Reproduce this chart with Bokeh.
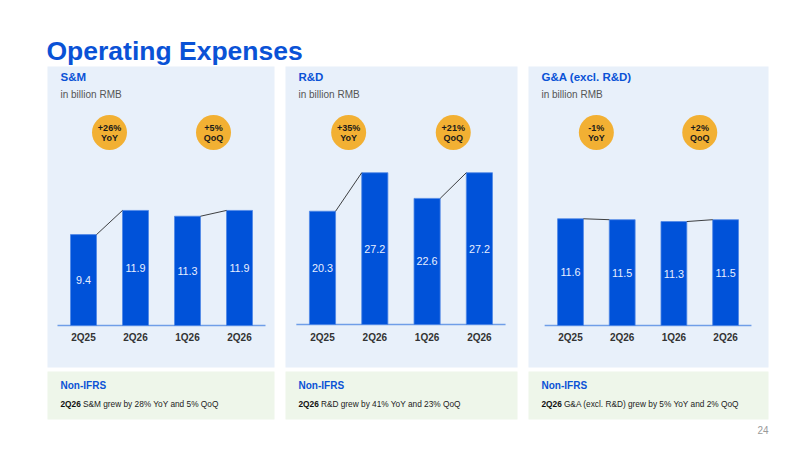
from bokeh.plotting import figure
from bokeh.models import Range1d
from bokeh.core.properties import value
from bokeh.embed import file_html
from bokeh.resources import INLINE

# ---------------- data ----------------
categories = ["2Q25", "2Q26", "1Q26", "2Q26"]
sm_values = [9.4, 11.9, 11.3, 11.9]
rd_values = [20.3, 27.2, 22.6, 27.2]
ga_values = [11.6, 11.5, 11.3, 11.5]
panel_titles = ["S&M", "R&D", "G&A (excl. R&D)"]
unit_label = "in billion RMB"
yoy_labels = ["+26%", "+35%", "-1%"]
qoq_labels = ["+5%", "+21%", "+2%"]
badge_kinds = ["YoY", "QoQ"]
note_title = "Non-IFRS"
note_period = "2Q26"
note_texts = [
    "S&M grew by 28% YoY and 5% QoQ",
    "R&D grew by 41% YoY and 23% QoQ",
    "G&A (excl. R&D) grew by 5% YoY and 2% QoQ",
]
page_title = "Operating Expenses"
page_number = "24"

series = [sm_values, rd_values, ga_values]

# ---------------- layout / style ----------------
W, H = 784, 434
OFF = 0
FONT = value("Liberation Sans")
BLUE = "#0a52d6"
BAR = "#0052d9"
PANEL_BG = "#e8f0fa"
NOTE_BG = "#eef6ea"
BADGE = "#f2b033"

panels = [
    dict(left=47, right=274, cx0=83.0, step=52.0, base=325.0, scale=9.67),
    dict(left=285, right=517, cx0=322.0, step=52.3, base=324.0, scale=5.58),
    dict(left=528, right=768, cx0=570.0, step=51.7, base=325.0, scale=9.2),
]

p = figure(width=W, height=H, x_range=Range1d(OFF, OFF + W), y_range=Range1d(OFF + H, OFF),
           output_backend="svg", toolbar_location=None, min_border=0)
p.axis.visible = False
p.grid.visible = False
p.outline_line_color = None
p.background_fill_color = "white"
p.border_fill_color = "white"

# title
p.text(x=[46], y=[50], text=[page_title], text_font=FONT, text_font_size="26.5px",
       text_font_style="bold", text_color=BLUE, text_baseline="alphabetic")
p.text(x=[768], y=[429], text=[page_number], text_font=FONT, text_font_size="10px",
       text_color="#9a9a9a", text_align="right", text_baseline="middle")

idx = list(range(len(categories)))

for i, (pn, vals) in enumerate(zip(panels, series)):
    xr, yr = f"x{i}", f"y{i}"
    p.extra_x_ranges[xr] = Range1d((OFF - pn["cx0"]) / pn["step"], (OFF + W - pn["cx0"]) / pn["step"])
    p.extra_y_ranges[yr] = Range1d((pn["base"] - (OFF + H)) / pn["scale"], (pn["base"] - OFF) / pn["scale"])

    # panel backgrounds
    p.quad(left=[pn["left"]], right=[pn["right"]], top=[66], bottom=[367],
           fill_color=PANEL_BG, line_color=None)
    p.quad(left=[pn["left"]], right=[pn["right"]], top=[371], bottom=[419],
           fill_color=NOTE_BG, line_color=None)

    tx = pn["left"] + 13
    p.text(x=[tx], y=[76], text=[panel_titles[i]], text_font=FONT, text_font_size="11.5px",
           text_font_style="bold", text_color=BLUE, text_baseline="middle")
    p.text(x=[tx], y=[94], text=[unit_label], text_font=FONT, text_font_size="10px",
           text_color="#555555", text_baseline="middle")

    # notes
    p.text(x=[tx], y=[385], text=[note_title], text_font=FONT, text_font_size="10px",
           text_font_style="bold", text_color=BLUE, text_baseline="middle")
    p.text(x=[tx], y=[403], text=[note_period], text_font=FONT, text_font_size="8.3px",
           text_font_style="bold", text_color="#111111", text_baseline="middle")
    p.text(x=[tx + 22.4], y=[403], text=[note_texts[i]], text_font=FONT, text_font_size="8.3px",
           text_color="#222222", text_baseline="middle")

    # baseline axis line
    p.segment(x0=[-0.5], x1=[len(categories) - 0.5], y0=[0], y1=[0],
              line_color="#6f9ee8", line_width=1.5, x_range_name=xr, y_range_name=yr)

    # bars
    p.vbar(x=idx, top=vals, bottom=0, width=0.5, fill_color=BAR, line_color="#4f88e6",
           line_width=0.8, x_range_name=xr, y_range_name=yr)

    # connectors between pairs
    p.segment(x0=[0.25, 2.25], y0=[vals[0], vals[2]], x1=[0.75, 2.75], y1=[vals[1], vals[3]],
              line_color="#111111", line_width=0.8, x_range_name=xr, y_range_name=yr)

    # value labels
    p.text(x=idx, y=[v / 2 for v in vals], text=[f"{v:.1f}" for v in vals],
           text_font=FONT, text_font_size="10.8px", text_color="#e8eeff",
           text_align="center", text_baseline="middle", x_range_name=xr, y_range_name=yr)

    # category labels
    p.text(x=idx, y=[337] * len(idx), text=categories, text_font=FONT, text_font_size="10px",
           text_font_style="bold", text_color="#333333", text_align="center",
           text_baseline="middle", x_range_name=xr)

    # badges
    bx = [0.5, 2.5]
    p.scatter(x=bx, y=[132, 132], marker="circle", size=35, fill_color=BADGE,
              line_color=None, x_range_name=xr)
    p.text(x=bx, y=[127.5, 127.5], text=[yoy_labels[i], qoq_labels[i]], text_font=FONT,
           text_font_size="9px", text_font_style="bold", text_color="#1a1a1a",
           text_align="center", text_baseline="middle", x_range_name=xr)
    p.text(x=bx, y=[137, 137], text=badge_kinds, text_font=FONT,
           text_font_size="9px", text_font_style="bold", text_color="#1a1a1a",
           text_align="center", text_baseline="middle", x_range_name=xr)

open("out.html", "w").write(file_html(p, INLINE))
